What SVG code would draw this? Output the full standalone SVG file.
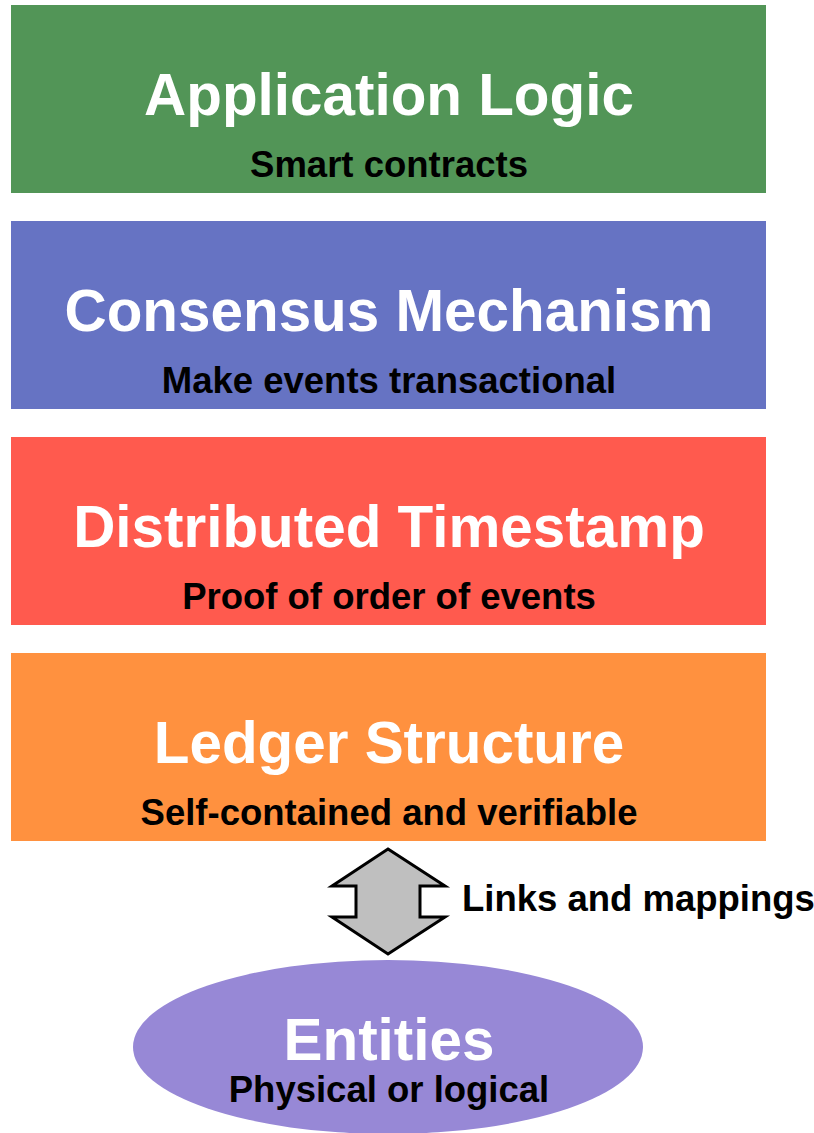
<svg xmlns="http://www.w3.org/2000/svg" width="814" height="1133" viewBox="0 0 814 1133">
<style>
.t{font-family:"Liberation Sans",Arial,sans-serif;font-weight:bold;font-size:58.4px;fill:#fff;text-anchor:middle}
.s{font-family:"Liberation Sans",Arial,sans-serif;font-weight:bold;font-size:36.5px;fill:#000;text-anchor:middle}
</style>
<rect width="814" height="1133" fill="#fff"/>
<g id="app"><rect x="11" y="5" width="755" height="188" fill="#529557"/><text class="t" x="389" y="115">Application Logic</text><text class="s" x="389" y="177">Smart contracts</text></g>
<g id="consensus"><rect x="11" y="221" width="755" height="188" fill="#6673C3"/><text class="t" x="389" y="331">Consensus Mechanism</text><text class="s" x="389" y="393">Make events transactional</text></g>
<g id="timestamp"><rect x="11" y="437" width="755" height="188" fill="#FF5A4E"/><text class="t" x="389" y="547">Distributed Timestamp</text><text class="s" x="389" y="609">Proof of order of events</text></g>
<g id="ledger"><rect x="11" y="653" width="755" height="188" fill="#FF913F"/><text class="t" x="389" y="763">Ledger Structure</text><text class="s" x="389" y="825">Self-contained and verifiable</text></g>
<g id="connectors"><polygon points="388,849 445,886 420,886 420,917 445,917 388,954 332,917 356,917 356,886 332,886" fill="#BFBFBF" stroke="#000" stroke-width="3" stroke-linejoin="miter"/><text class="s" x="462" y="911" style="text-anchor:start">Links and mappings</text></g>
<g id="entities"><ellipse cx="388" cy="1047" rx="255" ry="87" fill="#9788D6"/><text class="t" x="389" y="1060">Entities</text><text class="s" x="389" y="1102">Physical or logical</text></g>
</svg>
